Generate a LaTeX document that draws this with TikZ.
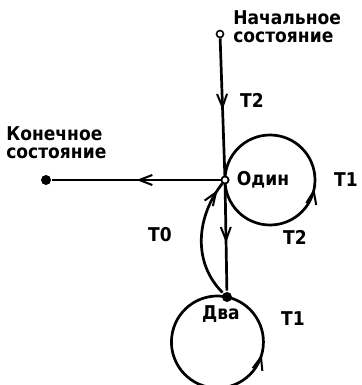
\documentclass[tikz,border=0pt]{standalone}
\usepackage{fontspec}
\setmainfont{DejaVu Sans Condensed}
\usetikzlibrary{arrows.meta,decorations.markings}

\begin{document}
\begin{tikzpicture}[x=1pt,y=1pt,line width=2.7pt,
   txt/.style={font=\fontsize{19}{18}\selectfont\bfseries,inner sep=0pt},
   opendot/.style={circle,draw,fill=white,line width=1.6pt,minimum size=7pt,inner sep=0pt},
   fulldot/.style={circle,fill,minimum size=10pt,inner sep=0pt},
   tip/.tip={Straight Barb[length=13pt,width=10pt,line width=2pt]},
   arrowat/.style={postaction={decorate},decoration={markings,mark=at position #1 with {\arrow{tip}}}}] 
   \useasboundingbox (0,0) rectangle (361,-385);
   \node[opendot] (start) at (220,-34) {};
   \node[opendot] (one)   at (225,-180) {};
   \node[fulldot] (two)   at (227,-297) {};
   \node[fulldot] (final) at (46,-180) {};
   % labels
   \node[txt,anchor=north west,align=left] (startlbl) at (232,-9) {Начальное\\состояние};
   \node[txt,anchor=north west,align=left] (finallbl) at (5,-125) {Конечное\\состояние};
   \node[txt] (onelbl) at (263,-180) {Один};
   \node[txt] (twolbl) at (221,-314) {Два};
   \node[txt] (t2a) at (252,-100) {T2};
   \node[txt] (t2b) at (295,-237) {T2};
   \node[txt] (t1a) at (346,-180) {T1};
   \node[txt] (t1b) at (293,-319) {T1};
   \node[txt] (t0)  at (160,-235) {T0};
   % transitions
   \draw[arrowat=0.52] (start) -- (one);
   \draw[arrowat=0.55] (one) -- (two);
   \draw[arrowat=0.5] (one) -- (final);
   \draw[arrowat=0.93] (two) to[out=135,in=-128] (one);
   \draw[arrowat=0.47] (one.center) arc[start angle=180,delta angle=360,radius=45];
   \draw[arrowat=0.74] (two.center) arc[start angle=78,delta angle=360,radius=46];
   \node[opendot] at (one) {};
\end{tikzpicture}
\end{document}
